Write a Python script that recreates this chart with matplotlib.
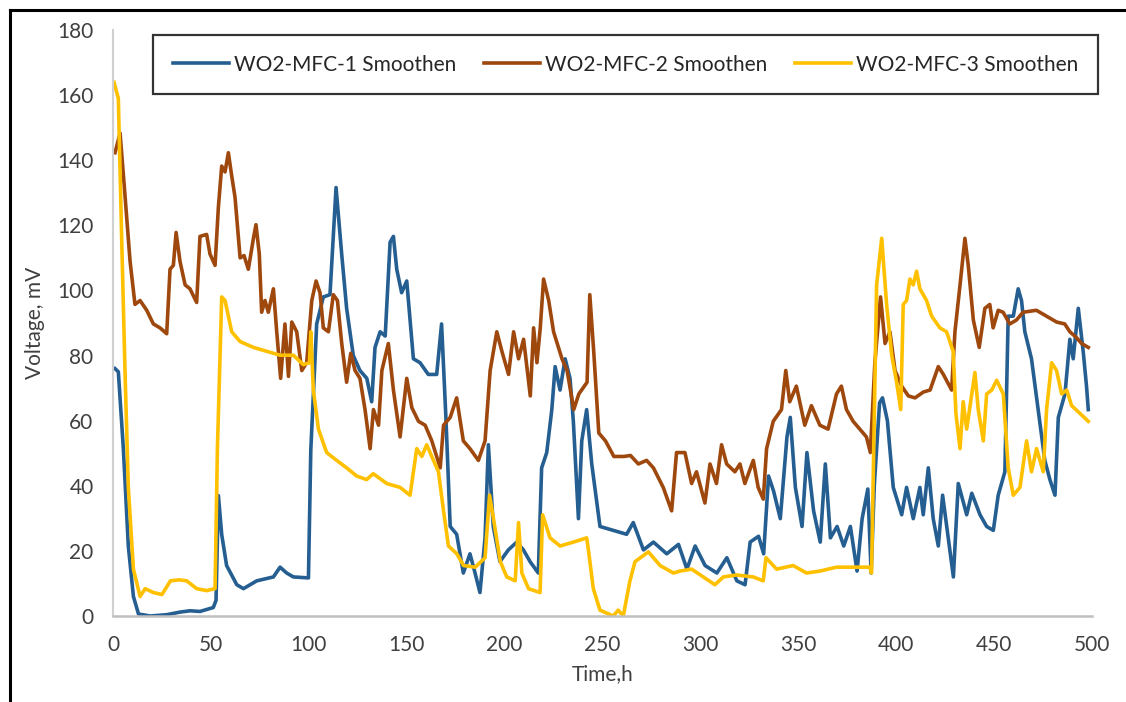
import matplotlib
matplotlib.use("Agg")
import matplotlib.pyplot as plt
from matplotlib.lines import Line2D

plt.rcParams['font.family'] = ['Lato', 'DejaVu Sans']

# --- data (time in h, voltage in mV) ---
mfc1_t = [1, 2.7, 5.3, 7.8, 10.4, 13, 19, 27.4, 34.2, 39.3,
          44.4, 51.2, 52.6, 53.8, 55.5, 58, 63.2, 66.6, 73.4, 81.9,
          85.3, 88.7, 92.1, 99.8, 101, 104, 107.4, 110.8, 113.9, 116.8,
          119.3, 122.7, 126.1, 129.6, 132.1, 133.8, 136.4, 139, 141.5, 143.2,
          144.9, 147.4, 150, 153.4, 156.8, 161, 165.3, 167.8, 170, 172.2,
          175.5, 178.9, 182.3, 184.9, 187.4, 190, 191.7, 194.2, 197.6, 201.9,
          206.2, 209.6, 213, 217.2, 218.9, 221.5, 224.1, 225.8, 228.3, 230.9,
          233.4, 235.1, 237.7, 239.4, 241.9, 244.5, 248.7, 255.5, 262.3, 265.7,
          270.9, 276, 282.8, 288.8, 293.1, 297.3, 302.4, 308.4, 313.5, 318.6,
          322.8, 325.4, 329.7, 332.3, 334.8, 337.4, 340.8, 344.2, 345.9, 348.5,
          351.9, 354.4, 357.8, 361.2, 363.8, 366.4, 369.8, 373.2, 376.6, 380,
          382.6, 385.5, 387.2, 388.8, 391.5, 393, 395.5, 398.5, 402.8, 405.3,
          408.7, 412.1, 413.8, 416.4, 418.9, 421.5, 423.7, 425.8, 429.2, 431.7,
          436, 438.6, 442.8, 446.2, 449.6, 452.1, 455.5, 457.2, 459.8, 462.3,
          464, 465.7, 469.1, 472.5, 475.9, 478.5, 481.1, 482.8, 486.2, 488.7,
          490.4, 493, 495.5, 497.2, 498.1]
mfc1_v = [76, 75, 51, 21.5, 6, 0.6, 0, 0.4, 1.2, 1.6,
          1.4, 2.6, 4.8, 37, 25, 15.5, 9.6, 8.4, 10.8, 12,
          15, 13.2, 12, 11.7, 51, 89.7, 98, 98.7, 131.6, 111,
          94.5, 80, 75.4, 73, 65.8, 82.5, 87.3, 86, 114.8, 116.6,
          106.5, 99.3, 102.9, 79, 77.8, 74.2, 74.2, 89.7, 61, 27.5,
          25.1, 13.2, 19.1, 13.2, 7.2, 24, 52.6, 27.5, 16.7, 20.3,
          22.7, 20.3, 16.7, 13.2, 45.5, 50.2, 63.4, 76.6, 69.4, 79,
          73, 59.8, 29.9, 53.8, 63.4, 46.7, 27.5, 26.3, 25.1, 28.7,
          20.3, 22.7, 19.1, 22, 14.4, 21.5, 15.5, 13.2, 17.9, 10.8,
          9.6, 22.7, 24.5, 19.1, 43, 38.3, 29.9, 55, 61, 39.5,
          27.5, 50.2, 32.3, 22.7, 46.7, 24, 27.5, 21.5, 27.5, 13.8,
          29.9, 39, 13.2, 40, 65.5, 67, 60, 39.5, 31.1, 39.5,
          29.9, 39.5, 31.1, 45.5, 29.9, 21.5, 37.1, 27.5, 12, 40.7,
          31.1, 37.7, 31.1, 27.5, 26.3, 37.1, 44.3, 92.1, 92.1, 100.5,
          96.9, 87.3, 79, 63.4, 47.8, 41.9, 37.1, 61, 68.2, 85,
          79, 94.5, 81.3, 70.6, 63.4]

mfc2_t = [1, 3.6, 6.1, 8.7, 11.2, 13.8, 17.2, 20.6, 24, 27.4,
          29.1, 30.8, 32.2, 34.2, 36.8, 39.3, 42.7, 44.4, 47.8, 49.5,
          52.1, 53.8, 55.5, 57.2, 58.9, 60.6, 62.3, 64.9, 66.9, 69.1,
          71.7, 73, 74.7, 75.9, 77.6, 79.3, 81.9, 83.6, 85.6, 87.8,
          89.6, 91.3, 93.8, 96.4, 98.9, 101.5, 103.7, 105.7, 107.4, 110,
          112.5, 114.6, 116.8, 119.3, 121.4, 123.6, 126.1, 128.7, 131.3, 133,
          135.6, 137.3, 140.6, 143.2, 146.6, 150, 152.6, 156, 159.4, 162.8,
          167.1, 168.8, 172.2, 175.5, 178.9, 182.3, 186.6, 190, 192.6, 196,
          198.6, 202, 204.6, 207.1, 209.7, 213.1, 214.8, 216.5, 218.2, 219.9,
          222.5, 225, 229.3, 231.9, 235.3, 237.9, 242.1, 243.5, 245.5, 248.1,
          251.5, 255.8, 260.9, 264.3, 268.3, 272.5, 276, 281, 285.3, 287.8,
          292.1, 295.5, 298, 302.3, 304.9, 308.2, 310.8, 313.4, 317.6, 320.2,
          322.7, 327, 329.5, 332.1, 333.8, 337.2, 341.4, 343.6, 345.6, 349,
          353.3, 356.7, 361, 365.2, 369.5, 372, 374.6, 378, 381.4, 384.8,
          386.8, 389.1, 392, 394.3, 396.8, 399.4, 402.8, 406.2, 409.6, 413.9,
          417.3, 421.5, 424.1, 428.3, 430, 432.6, 435.1, 436.8, 439.4, 442.4,
          445.3, 447.8, 449.5, 452.1, 454.6, 458, 461.4, 464.8, 471.6, 476.8,
          481.9, 486.1, 488.7, 492.1, 494.7, 498.1]
mfc2_v = [142.3, 148.3, 129.2, 108.9, 95.7, 96.9, 93.9, 89.7, 88.5, 86.7,
          106.5, 107.7, 117.8, 108.9, 101.7, 100.5, 96.3, 116.6, 117.2, 111.2,
          107.7, 125.6, 138.2, 136.4, 142.3, 135.2, 128.6, 110, 110.7, 106.5,
          116, 120.2, 111.2, 93.3, 96.9, 93.3, 100.5, 87.3, 73, 89.7,
          73.6, 90.3, 87.3, 75.4, 77.8, 96.9, 102.9, 99.3, 88.5, 87.3,
          98.7, 96.9, 83.7, 71.8, 80.7, 75.4, 73, 63.4, 51.4, 63.4,
          58.6, 75.4, 83.7, 69.4, 55, 73, 64, 59.8, 58.6, 53.8,
          45.5, 58.6, 61, 67, 53.8, 51.4, 47.8, 53.8, 75.4, 87.3,
          81.3, 74.2, 87.3, 79, 85, 67.6, 88.5, 77.8, 88.5, 103.5,
          96.9, 87.3, 79, 75.4, 63.4, 68.2, 71.8, 98.7, 81.3, 56.2,
          53.8, 49, 49, 49.3, 46.7, 47.8, 45.5, 39.5, 32.3, 50.2,
          50.2, 40.7, 44.3, 34.7, 46.7, 40.7, 52.6, 46.7, 44.3, 46.7,
          40.7, 47.8, 39.5, 35.9, 51.4, 59.8, 63.4, 75.4, 65.8, 70.6,
          58.6, 64.6, 58.6, 57.4, 68.2, 70.6, 63.4, 59.8, 57.4, 55,
          50.2, 77.8, 98, 83.7, 87.3, 75.4, 70.6, 67.6, 67, 68.8,
          69.4, 76.6, 74.2, 69.4, 87.3, 101.7, 116, 107.7, 90.9, 82.5,
          94.5, 95.7, 88.5, 93.9, 93.3, 89.7, 90.9, 93.3, 93.9, 92.1,
          90.3, 89.7, 87.3, 85.5, 83.7, 82.5]

mfc3_t = [0.5, 2.7, 4.4, 6.1, 7.8, 10.4, 13.8, 16.4, 20.6, 25,
          29.3, 33.6, 37.6, 42.7, 47.8, 52.1, 53.3, 55.5, 57.2, 60.6,
          64.9, 71.7, 78.5, 85.3, 92.1, 97.2, 100.3, 101, 102.3, 104.9,
          109.1, 114.2, 119.3, 124.4, 129.5, 132.9, 139.8, 146.6, 151.7, 155.1,
          157.7, 160.2, 162.8, 166.2, 168.8, 171.3, 175.6, 179, 185, 190,
          192.3, 194.3, 197.8, 201.1, 205.4, 207.1, 208.8, 212.2, 218.1, 219.4,
          223.2, 228.3, 235.1, 241.9, 242.8, 245.3, 248.7, 255.5, 258, 260.6,
          264, 266.6, 273.4, 279.4, 286.2, 289.6, 295.5, 301.5, 307.4, 311.7,
          318.5, 327, 332.1, 333.5, 338.9, 347.4, 354.2, 361, 369.5, 378,
          386.5, 387.4, 390, 392.6, 395.1, 397.7, 400.2, 402.3, 403.6, 405.3,
          407, 408.7, 410.4, 412.1, 415.5, 418.1, 422.3, 425.7, 429.1, 430.5,
          432.6, 434.2, 436, 438.6, 440.2, 441.9, 444.5, 446.2, 448.8, 451.3,
          454.7, 457.2, 459.8, 463.2, 466.6, 469.1, 471.7, 475.1, 476.8, 479.4,
          481.9, 484.5, 487.1, 489.6, 493.9, 498.1]
mfc3_v = [163.9, 159, 116, 75.4, 39.5, 14.4, 6, 8.4, 7.2, 6.6,
          10.8, 11.1, 10.8, 8.4, 7.8, 8.4, 51.4, 98, 96.9, 87.3,
          84.3, 82.5, 81.3, 80.1, 80.1, 77.2, 77.8, 87.3, 69.4, 57.4,
          50.2, 47.8, 45.5, 43, 41.9, 43.7, 40.7, 39.5, 37.1, 51.4,
          49, 52.6, 49, 44.3, 32.3, 21.5, 19.1, 15.5, 15, 17.9,
          37.1, 29.9, 16.7, 12, 10.8, 28.7, 13.2, 8.4, 7.2, 31.1,
          24, 21.5, 22.7, 24, 20.3, 8.4, 1.8, 0, 1.8, 0,
          10.8, 16.7, 19.7, 15.5, 13.2, 13.8, 14.4, 12, 9.6, 12,
          12.6, 12, 10.8, 17.9, 14.4, 15.5, 13.2, 13.8, 15, 15,
          15, 13.2, 101.7, 116, 95.7, 80.1, 71.8, 63.4, 95.7, 96.9,
          103.5, 101.7, 105.9, 100.5, 96.9, 92.1, 88.5, 87.3, 81.3, 62.2,
          51.4, 65.8, 57.4, 68.2, 74.8, 63.4, 53.8, 68.2, 69.4, 72.4,
          68.2, 45.5, 37.1, 39.5, 53.8, 44.3, 51.4, 44.3, 63.4, 77.8,
          75.4, 68.2, 69.4, 64.6, 62.2, 59.8]

labels = ['WO2-MFC-1 Smoothen', 'WO2-MFC-2 Smoothen', 'WO2-MFC-3 Smoothen']
colors = ['#255E91', '#9E480E', '#FFC000']

fig = plt.figure(figsize=(11.26, 7.02), dpi=100)
ax = fig.add_axes([0.1004, 0.1225, 0.8694, 0.8348])

ax.plot(mfc1_t, mfc1_v, color=colors[0], lw=2.6, label=labels[0])
ax.plot(mfc2_t, mfc2_v, color=colors[1], lw=2.6, label=labels[1])
ax.plot(mfc3_t, mfc3_v, color=colors[2], lw=2.6, label=labels[2])

ax.set_xlim(0, 500)
ax.set_ylim(0, 180)
ax.set_xticks(range(0, 501, 50))
ax.set_yticks(range(0, 181, 20))
ax.tick_params(length=0, labelsize=15, labelcolor='#404040', pad=14)

for s in ['top', 'right']:
    ax.spines[s].set_visible(False)
ax.spines['left'].set_color('#D0D0D0')
ax.spines['bottom'].set_color('#BFBFBF')
ax.spines['left'].set_linewidth(1.5)
ax.spines['bottom'].set_linewidth(1.8)

ax.set_xlabel('Time,h', fontsize=15, color='#404040', labelpad=6)
ax.set_ylabel('Voltage, mV', fontsize=15, color='#404040', labelpad=9)

leg = ax.legend(loc='center', bbox_to_anchor=(0.1359, 0.8689, 0.8393, 0.0783),
                bbox_transform=fig.transFigure, mode='expand', ncol=3,
                fancybox=False, edgecolor='black', fontsize=15,
                handlelength=2.7, handletextpad=0.25, borderaxespad=0,
                borderpad=0.95)
leg.get_frame().set_linewidth(1.6)
for t in leg.get_texts():
    t.set_color('#262626')

# outer frame (left and top edges only)
fig.add_artist(Line2D([0.0093, 0.0093], [0, 0.986], color='black', lw=2.2,
                      transform=fig.transFigure))
fig.add_artist(Line2D([0.0093, 1], [0.986, 0.986], color='black', lw=2.2,
                      transform=fig.transFigure))

plt.savefig('out.png', dpi=100)
